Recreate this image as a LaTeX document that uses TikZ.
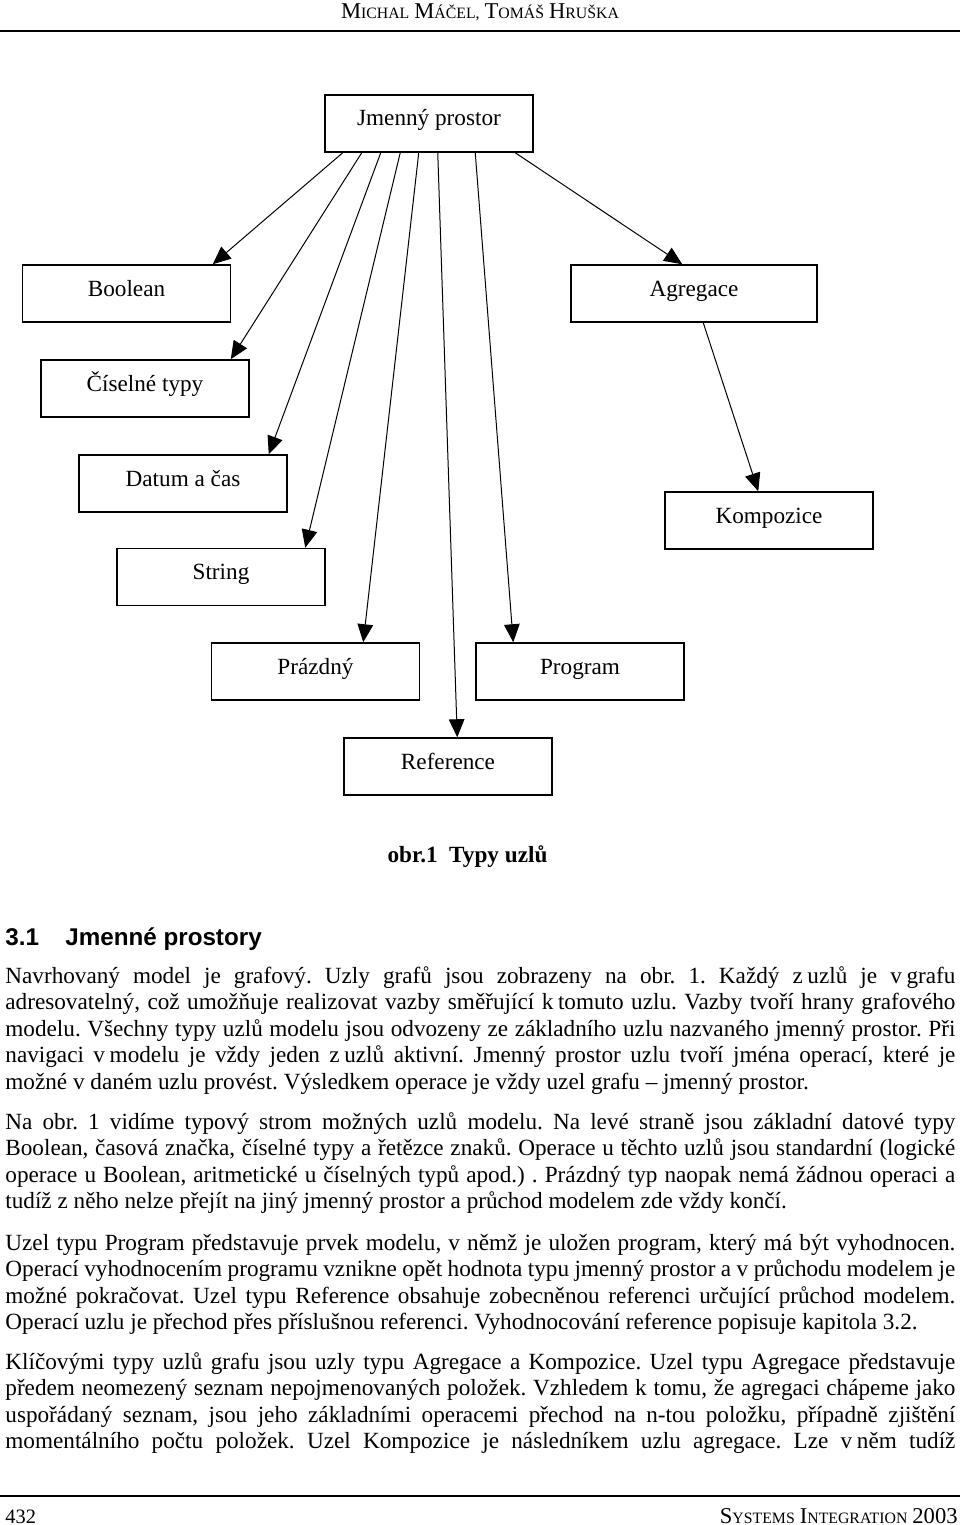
\documentclass[tikz,border=0pt]{standalone}
\usepackage{fontspec}
\setmainfont{Liberation Serif}
\newfontfamily\arialfont{Liberation Sans}
\usetikzlibrary{arrows.meta,calc}
\frenchspacing
\newcommand\bodyfont{\fontsize{11.6}{13.3}\selectfont}
\newcommand\ns{\hspace{0.2em}}
\newcommand\hsc[2]{{\fontsize{11.3}{13}\selectfont#1\fontsize{7.9}{13}\selectfont#2}}
\newcommand\jl[3]{\node[anchor=base west,inner sep=0pt] (#1) at (5,#2) {\bodyfont\frenchspacing\makebox[475pt][s]{#3}};}
\newcommand\jlast[3]{\node[anchor=base west,inner sep=0pt] (#1) at (5,#2) {\bodyfont\frenchspacing #3};}
\begin{document}
\begin{tikzpicture}[x=0.5pt,y=-0.5pt,
  box/.style={draw,line width=0.75pt,minimum width=104pt,minimum height=28.5pt,inner sep=0pt,
    text height=8.1pt,text depth=5.6pt,font=\bodyfont},
  arr/.style={line width=0.5pt,-{Triangle[length=9pt,width=7.8pt]}},
  rulel/.style={line width=0.75pt}]
\useasboundingbox (0,0) rectangle (960,1525);
% header
\node[anchor=base,inner sep=0pt] (hdr) at (480,19) {\hsc{M}{ICHAL} \hsc{M}{ÁČEL,} \hsc{T}{OMÁŠ} \hsc{H}{RUŠKA}};
\coordinate (hl) at (0,31); \coordinate (hr) at (960,31);
\draw[rulel] (hl) -- (hr);
% boxes
\node[box] (jp) at (429,123.5) {Jmenný prostor};
\node[box] (bool) at (126.5,293.5) {Boolean};
\node[box,minimum width=123pt] (agr) at (694,293.5) {Agregace};
\node[box] (cis) at (145,388.5) {Číselné typy};
\node[box] (dat) at (183,483.5) {Datum a čas};
\node[box] (kom) at (769,520.5) {Kompozice};
\node[box] (str) at (221,577) {String};
\node[box] (pra) at (315.5,671.5) {Prázdný};
\node[box] (prog) at (580,671.5) {Program};
\node[box] (ref) at (448,766.5) {Reference};
% connectors
\draw[arr] ($(jp.south west)+(18.5,0)$) -- ($(bool.north west)+(191,0)$);
\draw[arr] ($(jp.south west)+(37.5,0)$) -- ($(cis.north west)+(190.5,0)$);
\draw[arr] ($(jp.south west)+(56.5,0)$) -- ($(dat.north west)+(190.5,0)$);
\draw[arr] ($(jp.south west)+(76,0)$) -- ($(str.north west)+(189,0)$);
\draw[arr] ($(jp.south west)+(94.5,0)$) -- ($(pra.north west)+(152.5,0)$);
\draw[arr] ($(jp.south west)+(113.5,0)$) -- ($(ref.north west)+(114,0)$);
\draw[arr] ($(jp.south west)+(151,0)$) -- ($(prog.north west)+(38,0)$);
\draw[arr] ($(jp.south west)+(191,0)$) -- ($(agr.north west)+(112,0)$);
\draw[arr] ($(agr.south west)+(133,0)$) -- ($(kom.north west)+(94,0)$);
% caption
\node[anchor=base,inner sep=0pt,font=\bodyfont\bfseries] (cap) at (467.5,862) {obr.1\ \ Typy uzlů};
% section heading
\node[anchor=base west,inner sep=0pt,font=\arialfont\bfseries\fontsize{12.1}{14}\selectfont] (secnum) at (5,945) {3.1};
\node[anchor=base west,inner sep=0pt,font=\arialfont\bfseries\fontsize{12.1}{14}\selectfont] (sectitle) at (65,945) {Jmenné prostory};
% paragraph 1
\jl{a1}{983}{Navrhovaný model je grafový. Uzly grafů jsou zobrazeny na obr. 1. Každý z\ns uzlů je v\ns grafu}
\jl{a2}{1009.6}{adresovatelný, což umožňuje realizovat vazby směřující k\ns tomuto uzlu. Vazby tvoří hrany grafového}
\jl{a3}{1036.2}{modelu. Všechny typy uzlů modelu jsou odvozeny ze základního uzlu nazvaného jmenný prostor. Při}
\jl{a4}{1062.8}{navigaci v\ns modelu je vždy jeden z\ns uzlů aktivní. Jmenný prostor uzlu tvoří jména operací, které je}
\jlast{a5}{1089.4}{možné v daném uzlu provést. Výsledkem operace je vždy uzel grafu – jmenný prostor.}
% paragraph 2
\jl{b1}{1129}{Na obr. 1 vidíme typový strom možných uzlů modelu. Na levé straně jsou základní datové typy}
\jl{b2}{1155.6}{Boolean, časová značka, číselné typy a řetězce znaků. Operace u těchto uzlů jsou standardní (logické}
\jl{b3}{1182.2}{operace u Boolean, aritmetické u číselných typů apod.) . Prázdný typ naopak nemá žádnou operaci a}
\jlast{b4}{1208.8}{tudíž z něho nelze přejít na jiný jmenný prostor a průchod modelem zde vždy končí.}
% paragraph 3
\jl{c1}{1250}{Uzel typu Program představuje prvek modelu, v němž je uložen program, který má být vyhodnocen.}
\jl{c2}{1276.6}{Operací vyhodnocením programu vznikne opět hodnota typu jmenný prostor a v průchodu modelem je}
\jl{c3}{1303.2}{možné pokračovat. Uzel typu Reference obsahuje zobecněnou referenci určující průchod modelem.}
\jlast{c4}{1329.8}{Operací uzlu je přechod přes příslušnou referenci. Vyhodnocování reference popisuje kapitola 3.2.}
% paragraph 4
\jl{d1}{1369}{Klíčovými typy uzlů grafu jsou uzly typu Agregace a Kompozice. Uzel typu Agregace představuje}
\jl{d2}{1395.6}{předem neomezený seznam nepojmenovaných položek. Vzhledem k tomu, že agregaci chápeme jako}
\jl{d3}{1422.2}{uspořádaný seznam, jsou jeho základními operacemi přechod na n-tou položku, případně zjištění}
\jl{d4}{1448.8}{momentálního počtu položek. Uzel Kompozice je následníkem uzlu agregace. Lze v\ns něm tudíž}
% footer
\coordinate (fl) at (0,1496); \coordinate (fr) at (960,1496);
\draw[rulel] (fl) -- (fr);
\node[anchor=base west,inner sep=0pt] (pg) at (5,1523) {\fontsize{10.2}{12}\selectfont 432};
\node[anchor=base east,inner sep=0pt] (conf) at (958,1523) {\hsc{S}{YSTEMS} \hsc{I}{NTEGRATION} {\fontsize{11.3}{13}\selectfont 2003}};
\end{tikzpicture}
\end{document}
